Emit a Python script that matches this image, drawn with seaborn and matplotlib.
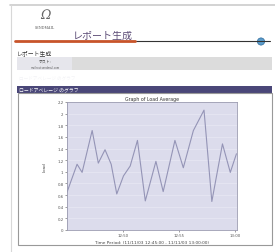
import matplotlib
matplotlib.use("Agg")
import matplotlib.pyplot as plt
import matplotlib.patches as mp
import seaborn as sns
import pandas as pd

sns.set_theme(style="white")
plt.rcParams['font.family'] = ['Noto Sans CJK JP', 'DejaVu Sans']

# data
minutes = [0, 0.9, 1.35, 2.25, 2.8, 3.4, 3.95, 4.45, 5.05, 5.65, 6.3, 7.0,
           7.95, 8.6, 9.65, 10.4, 11.3, 12.25, 12.95, 13.9, 14.6, 15.15]
load = [0.65, 1.13, 0.99, 1.71, 1.15, 1.38, 1.13, 0.62, 0.93, 1.1, 1.54, 0.5,
        1.18, 0.66, 1.54, 1.07, 1.71, 2.06, 0.49, 1.48, 0.99, 1.31]
xtick_pos = [5, 10, 15]
xtick_labels = ["12:50", "12:55", "13:00"]
ytick_vals = [0, 0.2, 0.4, 0.6, 0.8, 1, 1.2, 1.4, 1.6, 1.8, 2, 2.2]
ytick_labels = ["0", "0.2", "0.4", "0.6", "0.8", "1", "1.2", "1.4", "1.6", "1.8", "2", "2.2"]

W, H = 275, 253
fig = plt.figure(figsize=(W / 100, H / 100), dpi=100)
fig.patch.set_facecolor("white")

bg = fig.add_axes([0, 0, 1, 1])
bg.set_xlim(0, W)
bg.set_ylim(H, 0)
bg.axis("off")

# page border
bg.plot([10, 275], [6, 6], color="#cccccc", lw=1.2)
bg.plot([11, 11], [6, 253], color="#d8d8d8", lw=0.8)

# logo
bg.text(45, 15, "\u2126", fontsize=9, color="#666666", ha="center", va="center",
        family="DejaVu Serif", style="italic")
bg.text(45, 28, "SENDMAIL", fontsize=2.4, color="#555555", ha="center", va="center",
        family="DejaVu Serif")

# header title and rule
bg.text(73, 36, "レポート生成", fontsize=7.2, color="#5e4e78", ha="left", va="center")
bg.plot([135, 270], [42, 42], color="#333333", lw=0.8)
bg.plot([15, 135], [42, 42], color="#c8542a", lw=2.0)
bg.add_patch(mp.Circle((261, 42.5), 3.6, facecolor="#5a9ccc", edgecolor="#2e6a99", lw=0.5))

# sub heading
bg.text(17, 53, "レポート生成", fontsize=4.2, color="#333333", ha="left", va="center")

# host box
bg.add_patch(mp.Rectangle((17, 58), 255, 13, facecolor="#dcdcdc", edgecolor="none"))
bg.add_patch(mp.Rectangle((17, 58), 55, 13, facecolor="#e6e6ec", edgecolor="none"))
bg.text(45, 62, "ホスト:", fontsize=2.8, color="#444444", ha="center", va="center")
bg.text(45, 67.5, "mailhost.sendmail.com", fontsize=1.8, color="#555555", ha="center", va="center",
        family="DejaVu Sans")

bg.text(19, 79, "ロードアベレージ のグラフ", fontsize=3.3, color="#f3f3f6", ha="left", va="center")

# purple bar
bg.add_patch(mp.Rectangle((17, 86.5), 255, 7, facecolor="#4a4778", edgecolor="none"))
bg.text(19, 90, "ロードアベレージ のグラフ", fontsize=3.5, color="#ffffff", ha="left", va="center")

# chart box
bg.add_patch(mp.Rectangle((18, 93.5), 254, 152, facecolor="white", edgecolor="#999999", lw=0.8))

bg.text(152, 99, "Graph of Load Average", fontsize=3.4, color="#333333", ha="center", va="center",
        family="DejaVu Sans")

# chart axes
L, R, T, B = 67, 237, 103, 231
ax = fig.add_axes([L / W, (H - B) / H, (R - L) / W, (B - T) / H])
ax.set_facecolor("#dcdcec")
df = pd.DataFrame({"minutes": minutes, "load": load})
sns.lineplot(data=df, x="minutes", y="load", ax=ax, color="#9494b6", lw=0.8)
ax.set_xlim(0, 15.2)
ax.set_ylim(0, 2.2)
ax.set_yticks(ytick_vals)
ax.set_yticklabels(ytick_labels, family="DejaVu Sans")
ax.set_xticks(xtick_pos)
ax.set_xticklabels(xtick_labels, family="DejaVu Sans")
ax.tick_params(axis="both", labelsize=2.8, colors="#555555", length=1.5, width=0.4, pad=1,
               direction="out", left=True, bottom=True)
ax.grid(axis="y", color="#e8e8f4", lw=0.5)
for s in ax.spines.values():
    s.set_color("#9a9ab0")
    s.set_linewidth(0.6)
ax.set_ylabel("Load", fontsize=3, color="#444444", labelpad=8, family="DejaVu Sans")
ax.set_xlabel("Time Period: (11/11/03 12:45:00 - 11/11/03 13:00:00)", fontsize=3.1,
              color="#444444", labelpad=1.5, family="DejaVu Sans")

fig.savefig("out.png", dpi=100, facecolor="white")
